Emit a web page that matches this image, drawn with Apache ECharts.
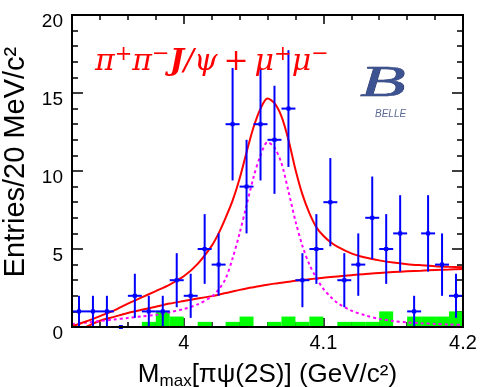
<!DOCTYPE html>
<html>
<head>
<meta charset="utf-8">
<script src="https://cdn.jsdelivr.net/npm/echarts@6/dist/echarts.min.js"></script>
<style>
html, body { margin: 0; padding: 0; background: #fff; }
#chart { width: 480px; height: 387px; }
</style>
</head>
<body>
<div id="chart"></div>
<script>
// data points (bin centres, 10 MeV bins) and counts
var binCenters = [3.925, 3.935, 3.945, 3.955, 3.965, 3.975, 3.985, 3.995, 4.005, 4.015,
                  4.025, 4.035, 4.045, 4.055, 4.065, 4.075, 4.085, 4.095, 4.105, 4.115,
                  4.125, 4.135, 4.145, 4.155, 4.165, 4.175, 4.185, 4.195];
var entries = [1, 1, 1, 0, 2, 1, 1, 3, 2, 5,
               4, 13, 9, 13, 12, 14, 3, 5, 8, 3,
               4, 7, 5, 6, 1, 6, 4, 2];

// sideband histogram (green), left bin edges and heights
var sbEdges = [3.97, 3.98, 3.99, 4.01, 4.03, 4.04, 4.06, 4.07, 4.08, 4.09,
               4.11, 4.12, 4.13, 4.14, 4.16, 4.17, 4.18, 4.19];
var sbHeights = [0.33, 1, 0.67, 0.33, 0.33, 0.67, 0.33, 0.67, 0.33, 0.67,
                 0.33, 0.33, 0.33, 1, 0.67, 0.67, 0.67, 1];

// fit curves
var fitX = [3.92, 3.93, 3.94, 3.95, 3.96, 3.97, 3.98, 3.99, 4.00, 4.01,
            4.02, 4.025, 4.03, 4.035, 4.04, 4.045, 4.05, 4.055, 4.06, 4.065,
            4.07, 4.075, 4.08, 4.085, 4.09, 4.095, 4.10, 4.105, 4.11, 4.12,
            4.13, 4.14, 4.15, 4.16, 4.17, 4.18, 4.19, 4.20];
var fitTotal = [0.05, 0.35, 0.7, 1.05, 1.5, 1.9, 2.3, 2.72, 3.25, 4.05,
                5.2, 6.0, 7.0, 8.1, 9.5, 11.2, 12.8, 14.0, 14.65, 14.35,
                13.5, 12.0, 10.1, 8.5, 7.3, 6.4, 5.85, 5.45, 5.15, 4.72,
                4.45, 4.27, 4.13, 4.03, 3.96, 3.9, 3.86, 3.83];
var fitBkg = [null, 0.0, 0.4, 0.65, 0.9, 1.1, 1.3, 1.5, 1.66, 1.82,
              1.98, 2.07, 2.18, 2.28, 2.38, 2.47, 2.55, 2.63, 2.71, 2.78,
              2.84, 2.9, 2.96, 3.01, 3.06, 3.11, 3.16, 3.2, 3.24, 3.32,
              3.4, 3.46, 3.52, 3.57, 3.61, 3.65, 3.68, 3.72];
var fitSig = [0.2, 0.28, 0.38, 0.48, 0.58, 0.68, 0.78, 0.95, 1.15, 1.45,
              1.95, 2.4, 3.1, 4.4, 6.0, 7.8, 9.6, 11.0, 11.85, 11.5,
              10.5, 8.7, 6.8, 5.2, 4.0, 3.15, 2.45, 1.95, 1.55, 1.05,
              0.75, 0.52, 0.38, 0.3, 0.24, 0.2, 0.16, 0.13];

// axis ticks and labels
var xLabels = [4.0, 4.1, 4.2];
var xMajorTicks = [4.0, 4.1];
var xMinorTicks = [3.94, 3.96, 3.98, 4.0, 4.02, 4.04, 4.06, 4.08, 4.1, 4.12, 4.14, 4.16, 4.18];
var yMajorTicks = [5, 10, 15];
var yMinorTicks = [1, 2, 3, 4, 5, 6, 7, 8, 9, 10, 11, 12, 13, 14, 15, 16, 17, 18, 19];

var binHalf = 0.005;
var sbWidth = 0.01;

function pairs(xs, ys) {
  return xs.map(function (x, i) { return [x, ys[i]]; });
}

var pointData = binCenters.map(function (x, i) {
  return [x, entries[i], Math.sqrt(entries[i])];
});

function renderPoint(params, api) {
  var x = api.value(0), y = api.value(1), e = api.value(2);
  var c = api.coord([x, y]);
  var top = api.coord([x, y + e]);
  var bot = api.coord([x, Math.max(y - e, 0)]);
  var l = api.coord([x - binHalf, y]);
  var r = api.coord([x + binHalf, y]);
  var st = { stroke: '#0000ff', lineWidth: 2 };
  return {
    type: 'group',
    children: [
      { type: 'line', shape: { x1: c[0], y1: top[1], x2: c[0], y2: bot[1] }, style: st },
      { type: 'line', shape: { x1: l[0], y1: c[1], x2: r[0], y2: c[1] }, style: st },
      { type: 'rect', shape: { x: c[0] - 2, y: c[1] - 2, width: 4, height: 4 }, style: { fill: '#0000ff' } }
    ]
  };
}

function renderBar(params, api) {
  var x0 = api.value(0), h = api.value(1);
  var p0 = api.coord([x0, 0]);
  var p1 = api.coord([x0 + sbWidth, h]);
  return {
    type: 'rect',
    shape: { x: p0[0], y: p1[1], width: p1[0] - p0[0], height: p0[1] - p1[1] },
    style: { fill: '#00ff00' }
  };
}

// plot frame, taken from the cartesian system's own rectangle
function renderFrame(params) {
  var cs = params.coordSys;
  return {
    type: 'rect',
    shape: { x: cs.x, y: cs.y, width: cs.width, height: cs.height },
    style: { fill: 'none', stroke: '#000', lineWidth: 2 }
  };
}

var black = '#000';
var gridBox = { left: 72, right: 17, top: 15, bottom: 60, containLabel: false, outerBoundsMode: 'none' };
var frameLine = { show: true, onZero: false, lineStyle: { color: black, width: 2 } };

function ticks(values, len) {
  return { show: true, inside: true, length: len, customValues: values, lineStyle: { color: black, width: 1.5 } };
}

function xAx(grid, pos, extra) {
  return Object.assign({
    gridIndex: grid, type: 'value', position: pos,
    min: 3.92, max: 4.2,
    axisLine: { show: false, onZero: false },
    axisLabel: { show: false },
    splitLine: { show: false }
  }, extra);
}

function yAx(grid, pos, extra) {
  return Object.assign({
    gridIndex: grid, type: 'value', position: pos,
    min: 0, max: 20, interval: 5,
    axisLine: { show: false, onZero: false },
    axisLabel: { show: false },
    splitLine: { show: false }
  }, extra);
}

var option = {
  animation: false,
  grid: [
    Object.assign({}, gridBox),
    Object.assign({}, gridBox)
  ],
  xAxis: [
    xAx(0, 'bottom', {
      axisLine: frameLine,
      axisTick: ticks(xMinorTicks, 5),
      axisLabel: {
        show: true, customValues: xLabels, color: black, fontSize: 20, margin: 6,
        fontFamily: 'Liberation Sans',
        formatter: function (v) { return String(+v.toFixed(2)); }
      },
      name: 'M{sub|max}[πψ(2S)] (GeV/c²)',
      nameLocation: 'middle', nameGap: 32,
      nameTextStyle: {
        color: black, fontSize: 26, fontFamily: 'Liberation Sans',
        rich: { sub: { fontSize: 17, fontFamily: 'Liberation Sans', color: black, padding: [14, 0, 0, 0] } }
      }
    }),
    xAx(0, 'top', { axisLine: frameLine, axisTick: ticks(xMinorTicks, 5) }),
    xAx(1, 'bottom', { axisTick: ticks(xMajorTicks, 9) }),
    xAx(1, 'top', { axisTick: ticks(xMajorTicks, 9) })
  ],
  yAxis: [
    yAx(0, 'left', {
      axisLine: frameLine,
      axisTick: ticks(yMinorTicks, 6),
      axisLabel: {
        show: true, color: black, fontSize: 19, margin: 9,
        verticalAlign: 'top', lineHeight: 14,
        fontFamily: 'Liberation Sans'
      },
      name: 'Entries/20 MeV/c²',
      nameLocation: 'middle', nameGap: 32, nameRotate: 90,
      nameTextStyle: { color: black, fontSize: 29, fontFamily: 'Liberation Sans', padding: [0, 0, 0, 18] }
    }),
    yAx(0, 'right', { axisLine: frameLine, axisTick: ticks(yMinorTicks, 6) }),
    yAx(1, 'left', { axisTick: ticks(yMajorTicks, 11) }),
    yAx(1, 'right', { axisTick: ticks(yMajorTicks, 11) })
  ],
  graphic: [
    {
      type: 'text', left: 95, top: 44, z: 10,
      style: {
        text: '{m|π}{s|+}{m|π}{s|−}{j|J}{m|/ψ}{o|+}{m|μ}{s|+}{m|μ}{s|−}',
        rich: {
          m: { fontSize: 30, fontStyle: 'italic', fontFamily: 'DejaVu Serif', fill: '#ff0000', lineHeight: 36 },
          j: { fontSize: 30, fontStyle: 'italic', fontWeight: 'bold', fontFamily: 'DejaVu Serif', fill: '#ff0000', lineHeight: 36 },
          o: { fontSize: 30, fontFamily: 'DejaVu Serif', fill: '#ff0000', lineHeight: 36, padding: [0, 6, 0, 6] },
          s: { fontSize: 21, fontFamily: 'DejaVu Serif', fill: '#ff0000', lineHeight: 21, verticalAlign: 'top' }
        }
      }
    },
    {
      type: 'text', x: 360, y: 62, scaleX: 1.7, z: 10,
      style: {
        text: 'B', fontSize: 44, fontStyle: 'italic', fontFamily: 'Liberation Serif',
        fill: '#3d5291', stroke: '#1d2c5e', lineWidth: 0.6,
        shadowColor: 'rgba(140,120,60,0.6)', shadowBlur: 3, shadowOffsetY: 2
      }
    },
    {
      type: 'text', left: 375, top: 109, z: 10,
      style: {
        text: 'BELLE', fontSize: 10, fontStyle: 'italic', fontFamily: 'Liberation Sans',
        fill: '#5d6a94'
      }
    }
  ],
  series: [
    {
      type: 'custom', xAxisIndex: 0, yAxisIndex: 0, z: 1,
      renderItem: renderBar,
      data: pairs(sbEdges, sbHeights)
    },
    {
      type: 'line', xAxisIndex: 0, yAxisIndex: 0, z: 2,
      data: pairs(fitX, fitBkg), smooth: 0.3, showSymbol: false,
      lineStyle: { color: '#ff0000', width: 2 }
    },
    {
      type: 'line', xAxisIndex: 0, yAxisIndex: 0, z: 2,
      data: pairs(fitX, fitSig), smooth: 0.3, showSymbol: false,
      lineStyle: { color: '#ff00ff', width: 2, type: [3, 3] }
    },
    {
      type: 'line', xAxisIndex: 0, yAxisIndex: 0, z: 2,
      data: pairs(fitX, fitTotal), smooth: 0.3, showSymbol: false,
      lineStyle: { color: '#ff0000', width: 2 }
    },
    {
      type: 'custom', xAxisIndex: 0, yAxisIndex: 0, z: 3,
      renderItem: renderPoint,
      data: pointData
    },
    {
      // one dummy item so the frame gets drawn once
      type: 'custom', xAxisIndex: 0, yAxisIndex: 0, z: 4, silent: true,
      renderItem: renderFrame,
      data: [[4.0, 0]]
    }
  ]
};

var chart = echarts.init(document.getElementById('chart'));
chart.setOption(option);

window.addEventListener('resize', function () {
  chart.resize();
});
</script>
</body>
</html>
